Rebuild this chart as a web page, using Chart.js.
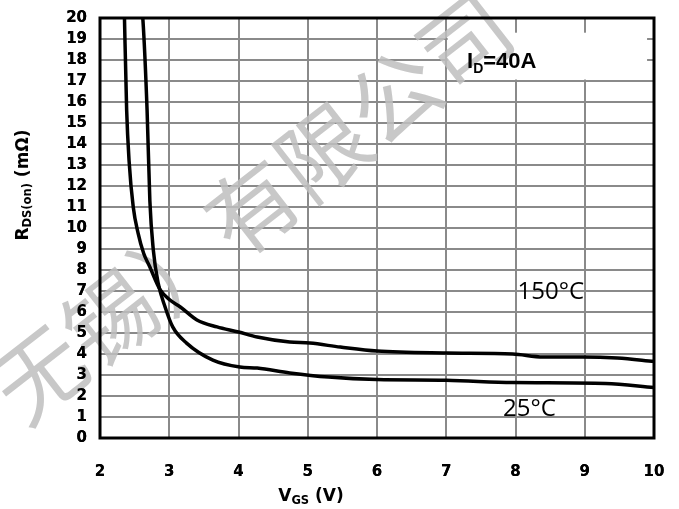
<!DOCTYPE html>
<html>
<head>
<meta charset="utf-8">
<script src="https://cdn.jsdelivr.net/npm/chart.js@4"></script>
<style>
  html, body { margin: 0; padding: 0; background: #fff; }
  #wrap { width: 679px; height: 509px; }
</style>
</head>
<body>
<div id="wrap"><canvas id="chart1" width="679" height="509"></canvas></div>
<script>
// 150°C curve (V_GS in V, R_DS(on) in mOhm)
const vgs150 = [2.35, 2.385, 2.42, 2.48, 2.55, 2.63, 2.72, 2.87, 3.01, 3.16, 3.4, 3.69, 4.0, 4.27, 4.74, 5.03, 5.47, 6.0, 7.0, 7.96, 8.4, 8.97, 9.47, 10];
const rds150 = [20.5, 15.6, 13.2, 11.0, 9.76, 8.8, 8.14, 7.05, 6.57, 6.24, 5.62, 5.29, 5.05, 4.81, 4.57, 4.52, 4.33, 4.14, 4.05, 4.0, 3.86, 3.86, 3.81, 3.65];

// 25°C curve
const vgs25 = [2.6, 2.62, 2.68, 2.72, 2.77, 2.84, 2.94, 3.05, 3.25, 3.63, 4.02, 4.27, 4.74, 5.3, 6.0, 7.0, 7.96, 9.3, 10];
const rds25 = [20.5, 19.9, 15.6, 11.3, 8.95, 7.38, 6.24, 5.29, 4.52, 3.71, 3.38, 3.33, 3.1, 2.9, 2.78, 2.75, 2.64, 2.6, 2.4];

const xTicks = [2, 3, 4, 5, 6, 7, 8, 9, 10];
const yTicks = [0, 1, 2, 3, 4, 5, 6, 7, 8, 9, 10, 11, 12, 13, 14, 15, 16, 17, 18, 19, 20];

const watermark = '无锡）有限公司';

function toPoints(xs, ys) {
  return xs.map((x, i) => ({ x: x, y: ys[i] }));
}

const tickFont = { family: "'DejaVu Sans', sans-serif", size: 15, weight: 'bold' };

// draws text made of [text, size, baselineShift] pieces, centred on cx
function drawPieces(ctx, pieces, cx, baseY) {
  let total = 0;
  pieces.forEach(p => {
    ctx.font = 'bold ' + p[1] + "px 'DejaVu Sans'";
    total += ctx.measureText(p[0]).width;
  });
  let x = cx - total / 2;
  pieces.forEach(p => {
    ctx.font = 'bold ' + p[1] + "px 'DejaVu Sans'";
    ctx.fillText(p[0], x, baseY + p[2]);
    x += ctx.measureText(p[0]).width;
  });
}

const decorations = {
  id: 'decorations',
  beforeDatasetsDraw(chart) {
    const ctx = chart.ctx;
    const xs = chart.scales.x;
    const ys = chart.scales.y;
    // white box behind the I_D label
    ctx.save();
    ctx.fillStyle = '#fff';
    const bx = xs.getPixelForValue(7.02);
    const by = ys.getPixelForValue(19.3);
    ctx.fillRect(bx, by, xs.getPixelForValue(9.9) - bx, ys.getPixelForValue(17.07) - by);
    ctx.restore();

    // watermark
    ctx.save();
    ctx.translate(252, 207);
    ctx.rotate(-38 * Math.PI / 180);
    ctx.fillStyle = 'rgba(190,190,190,0.85)';
    ctx.font = "90px 'Noto Sans CJK SC'";
    ctx.textAlign = 'center';
    ctx.textBaseline = 'middle';
    ctx.fillText(watermark, 0, 0);
    ctx.restore();
  },
  afterDatasetsDraw(chart) {
    const ctx = chart.ctx;
    const a = chart.chartArea;
    const xs = chart.scales.x;
    const ys = chart.scales.y;
    // tick labels stay above the watermark
    ys.drawLabels(a);
    xs.drawLabels(a);

    ctx.save();
    // frame
    ctx.strokeStyle = '#000';
    ctx.lineWidth = 3;
    ctx.strokeRect(a.left, a.top, a.right - a.left, a.bottom - a.top);

    ctx.fillStyle = '#000';
    ctx.textBaseline = 'alphabetic';

    // temperature labels
    ctx.font = "24px 'Open Sans'";
    ctx.textAlign = 'center';
    ctx.fillText('150°C', xs.getPixelForValue(8.51), ys.getPixelForValue(6.6));
    ctx.fillText('25°C', xs.getPixelForValue(8.2), ys.getPixelForValue(1.05));

    // I_D label
    ctx.textAlign = 'left';
    let x = xs.getPixelForValue(7.3);
    const base = ys.getPixelForValue(17.6);
    ctx.font = "bold 22px 'Liberation Sans'";
    ctx.fillText('I', x, base);
    x += ctx.measureText('I').width;
    ctx.font = "bold 14px 'Liberation Sans'";
    ctx.fillText('D', x, base + 5);
    x += ctx.measureText('D').width;
    ctx.font = "bold 22px 'Liberation Sans'";
    ctx.fillText('=40A', x, base);

    // axis titles
    ctx.textAlign = 'left';
    drawPieces(ctx, [['V', 17, 0], ['GS', 11.5, 3], [' (V)', 17, 0]], 311, 501);
    ctx.translate(28, 185);
    ctx.rotate(-Math.PI / 2);
    drawPieces(ctx, [['R', 17, 0], ['DS(on)', 11.5, 3], [' (mΩ)', 17, 0]], 0, 0);
    ctx.restore();
  }
};

new Chart(document.getElementById('chart1'), {
  type: 'line',
  data: {
    datasets: [
      {
        label: '150°C',
        data: toPoints(vgs150, rds150),
        borderColor: '#000',
        borderWidth: 3.5,
        pointRadius: 0,
        cubicInterpolationMode: 'monotone',
      },
      {
        label: '25°C',
        data: toPoints(vgs25, rds25),
        borderColor: '#000',
        borderWidth: 3.5,
        pointRadius: 0,
        cubicInterpolationMode: 'monotone',
      },
    ],
  },
  options: {
    responsive: false,
    animation: false,
    layout: { padding: { left: 0, top: 18, right: 25, bottom: 0 } },
    scales: {
      x: {
        type: 'linear',
        min: 2,
        max: 10,
        afterFit(scale) {
          scale.height = 71;
          scale.paddingLeft = 0;
          scale.paddingRight = 0;
        },
        afterBuildTicks(scale) { scale.ticks = xTicks.map(v => ({ value: v })); },
        border: { display: false },
        grid: { color: '#8a8a8a', lineWidth: 2, drawTicks: false },
        ticks: { color: '#000', font: tickFont, padding: 25, maxRotation: 0, autoSkip: false },
      },
      y: {
        min: 0,
        max: 20,
        afterFit(scale) {
          scale.width = 100;
          scale.paddingTop = 0;
          scale.paddingBottom = 0;
        },
        afterBuildTicks(scale) { scale.ticks = yTicks.map(v => ({ value: v })); },
        border: { display: false },
        grid: { color: '#8a8a8a', lineWidth: 2, drawTicks: false },
        ticks: { color: '#000', font: tickFont, padding: 13, autoSkip: false },
      },
    },
    plugins: {
      legend: { display: false },
      tooltip: { enabled: false },
    },
  },
  plugins: [decorations],
});
</script>
</body>
</html>
